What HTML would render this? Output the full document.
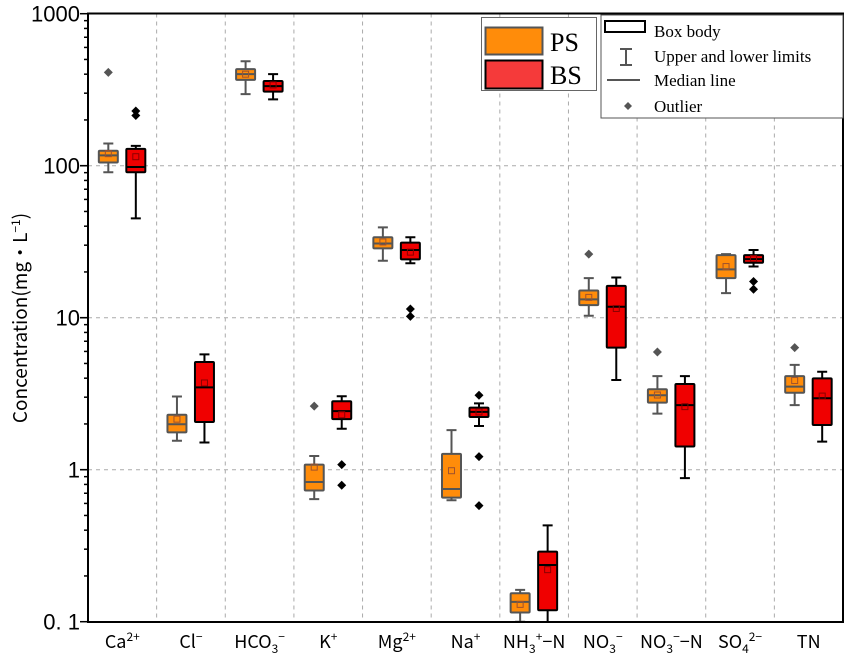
<!DOCTYPE html>
<html><head><meta charset="utf-8"><style>
html,body{margin:0;padding:0;background:#fff;}
svg{display:block;}
</style></head><body>
<svg id="chart" width="851" height="662" viewBox="0 0 851 662" xmlns="http://www.w3.org/2000/svg">
<rect x="0" y="0" width="851" height="662" fill="#fff"/>
<g id="grid"></g>
<g id="boxes"></g>
<rect x="88" y="13.5" width="755" height="608.5" fill="none" stroke="#000" stroke-width="2"/>
<g id="yaxis"></g>
<g id="xaxis"></g>
<text transform="translate(27,318) rotate(-90)" text-anchor="middle" font-family="'Noto Sans CJK SC','Liberation Sans',sans-serif" font-size="19" fill="#000">Concentration(mg・L<tspan dy="-7" font-size="12">−1</tspan><tspan dy="7">)</tspan></text>
<g>
<rect x="481.5" y="17.5" width="115" height="73" fill="#fff" stroke="#666" stroke-width="1"/>
<rect x="485.5" y="27.5" width="57" height="27" fill="#ff8c0a" stroke="#555" stroke-width="2"/>
<rect x="485.5" y="60.5" width="57" height="28" fill="#f53a3a" stroke="#000" stroke-width="2"/>
<text x="550" y="51" font-family="'Liberation Serif',serif" font-size="26">PS</text>
<text x="550" y="84" font-family="'Liberation Serif',serif" font-size="26">BS</text>
</g>
<g font-family="'Liberation Serif',serif" font-size="17">
<rect x="601" y="15" width="242" height="103" fill="#fff" stroke="#555" stroke-width="1"/>
<rect x="605" y="21" width="40" height="11" fill="none" stroke="#000" stroke-width="2"/>
<path d="M620 49H632M626 49V65M620 65H632" stroke="#555" stroke-width="2" fill="none"/>
<path d="M607 80H640" stroke="#555" stroke-width="2"/>
<path d="M628 102L632 106L628 110L624 106Z" fill="#555"/>
<text x="654" y="37">Box body</text>
<text x="654" y="62">Upper and lower limits</text>
<text x="654" y="86">Median line</text>
<text x="654" y="112">Outlier</text>
</g>
</svg>
<script>
const categories=["Ca","Cl","HCO3","K","Mg","Na","NH3N","NO3","NO3N","SO4","TN"];
// [whiskerLow, q1, median, q3, whiskerHigh, mean]
const psStats=[
[90.5,105,117,125.5,140,120],
[1.55,1.76,1.99,2.30,3.03,2.15],
[296,367,400,432,487,400],
[0.64,0.73,0.83,1.08,1.23,1.04],
[23.7,28.6,30.8,33.8,39.3,31.5],
[0.63,0.655,0.746,1.27,1.82,0.985],
[0.1,0.115,0.135,0.154,0.162,0.13],
[10.3,12.1,13.2,15.1,18.2,13.6],
[2.34,2.76,3.09,3.38,4.13,3.1],
[14.5,18.2,20.8,25.8,26.2,21.7],
[2.66,3.21,3.52,4.13,4.89,3.86]];
const bsStats=[
[45,90.5,98,129,135,114.6],
[1.51,2.06,3.48,5.11,5.74,3.72],
[273,307,334,361,400,340],
[1.86,2.15,2.43,2.82,3.04,2.3],
[22.8,24.2,27.9,31.2,33.8,27],
[1.94,2.22,2.40,2.56,2.73,2.4],
[0.085,0.119,0.236,0.289,0.43,0.22],
[3.89,6.35,11.8,16.2,18.4,11.5],
[0.88,1.42,2.66,3.66,4.13,2.6],
[21.7,23.0,24.3,25.8,27.9,24.5],
[1.53,1.97,2.95,3.99,4.41,3.05]];
const psOutliers=[[411],[],[],[2.62],[],[],[],[26.2],[5.95],[],[6.35]];
const bsOutliers=[[229,214],[],[],[1.08,0.79],[11.4,10.2],[3.09,1.22,0.58],[],[],[],[17.3,15.4],[]];
// [base, subscript, superscript, tail]
const xLabels=[["Ca","","2+",""],["Cl","","−",""],["HCO","3","−",""],["K","","+",""],["Mg","","2+",""],["Na","","+",""],["NH","3","+","−N"],["NO","3","−",""],["NO","3","−","−N"],["SO","4","2−",""],["TN","","",""]];
const yTicks=[1000,100,10,1,0.1];
const yTickLabels=["1000","100","10","1","0. 1"];

const NS="http://www.w3.org/2000/svg";
const X0=88,X1=843,Y0=13.5,Y1=622;
const bw=(X1-X0)/categories.length;
function xC(i){return X0+bw*(i+0.5);}
function y(v){return 165.7-(Math.log10(v)-2)*152;}
function mk(tag,attrs,parent){const e=document.createElementNS(NS,tag);for(const k in attrs)e.setAttribute(k,attrs[k]);parent.appendChild(e);return e;}
function ts(parent,txt,dy,fs){const s=document.createElementNS(NS,'tspan');if(dy)s.setAttribute('dy',dy);s.setAttribute('font-size',fs);s.textContent=txt;parent.appendChild(s);return s;}
const grid=document.getElementById('grid'),boxes=document.getElementById('boxes'),ya=document.getElementById('yaxis'),xa=document.getElementById('xaxis');
for(let i=1;i<categories.length;i++){const l=mk('line',{x1:X0+bw*i,x2:X0+bw*i,y1:Y0,y2:Y1,stroke:'#aaa','stroke-dasharray':'4,4','stroke-width':1},grid);

}
yTicks.forEach(t=>{if(t===1000||t===0.1)return;const l=mk('line',{x1:X0,x2:X1,y1:y(t),y2:y(t),stroke:'#aaa','stroke-dasharray':'4,4','stroke-width':1},grid);

});
for(let d=-1;d<3;d++){for(let m=1;m<=10;m++){const v=m*Math.pow(10,d);const len=(m===1||m===10)?8:4;
const t=mk('line',{x1:X0-len,x2:X0,y1:y(v),y2:y(v),stroke:'#000','stroke-width':1.5},ya);

}}
yTicks.forEach((t,i)=>{const tx=mk('text',{x:X0-8,y:y(t)+8,'text-anchor':'end','font-family':"'Liberation Sans',sans-serif",'font-size':22},ya);tx.textContent=yTickLabels[i];

});
xLabels.forEach((p,i)=>{const tx=mk('text',{x:xC(i),y:648,'text-anchor':'middle','font-family':"'Noto Sans CJK SC','Liberation Sans',sans-serif",'font-size':18},xa);


ts(tx,p[0],null,18);
let cur=0;
if(p[1]){ts(tx,p[1],5,12);cur=5;}
if(p[2]){ts(tx,p[2],-7-cur,12);cur=-7;}
if(p[3]){ts(tx,p[3],-cur,18);cur=0;}
});
const cp=mk('clipPath',{id:'pc'},document.getElementById('chart'));mk('rect',{x:X0,y:Y0,width:X1-X0,height:Y1-Y0},cp);
boxes.setAttribute('clip-path','url(#pc)');
function drawBox(i,st,outs,off,fill,stroke,meanStroke,name){
const cx=xC(i)+off,w=19,g=mk('g',{},boxes);


const [lo,q1,md,q3,hi,mn]=st;
mk('path',{d:`M${cx} ${y(hi)}V${y(q3)}M${cx} ${y(q1)}V${y(lo)}M${cx-5} ${y(hi)}H${cx+5}M${cx-5} ${y(lo)}H${cx+5}`,stroke:stroke,'stroke-width':2,fill:'none'},g);
mk('rect',{x:cx-w/2,y:y(q3),width:w,height:Math.max(1,y(q1)-y(q3)),fill:fill,stroke:stroke,'stroke-width':2,rx:1},g);
mk('line',{x1:cx-w/2,x2:cx+w/2,y1:y(md),y2:y(md),stroke:stroke,'stroke-width':2},g);
mk('rect',{x:cx-3,y:y(mn)-3,width:6,height:6,fill:'none',stroke:meanStroke,'stroke-width':1},g);
outs.forEach(o=>{const d=mk('path',{d:`M${cx} ${y(o)-4.5}L${cx+4.5} ${y(o)}L${cx} ${y(o)+4.5}L${cx-4.5} ${y(o)}Z`,fill:stroke},g);

});
}
categories.forEach((c,i)=>{
drawBox(i,psStats[i],psOutliers[i],-14,'#ff8c0a','#555','#a0522d','ps');
drawBox(i,bsStats[i],bsOutliers[i],13.5,'#f00000','#000','#8b0000','bs');
});
</script>
</body></html>
